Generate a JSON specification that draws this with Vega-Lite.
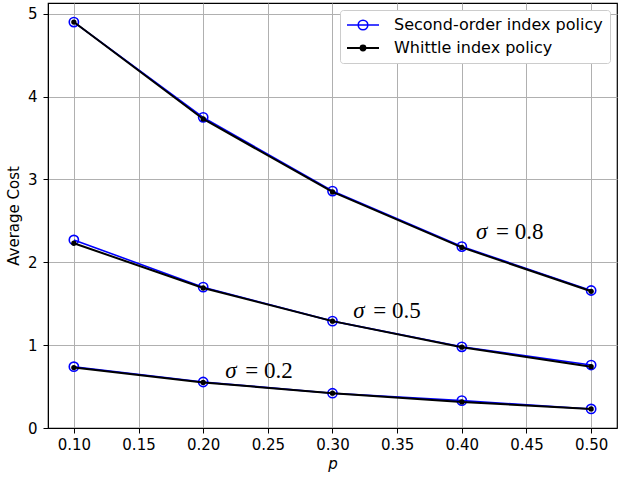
{
  "$schema": "https://vega.github.io/schema/vega-lite/v6.json",
  "width": 569,
  "height": 425,
  "autosize": {"type": "none"},
  "padding": {"left": 48, "top": 3, "right": 6, "bottom": 53},
  "background": "white",
  "config": {
    "view": {"stroke": "black", "strokeWidth": 1.2},
    "font": "DejaVu Sans",
    "axis": {
      "domainColor": "black",
      "tickColor": "black",
      "tickSize": 5,
      "gridColor": "#b0b0b0",
      "gridWidth": 1,
      "labelFont": "DejaVu Sans",
      "labelFontSize": 15,
      "labelColor": "black",
      "titleFont": "DejaVu Sans",
      "titleFontSize": 15,
      "titleFontWeight": "normal",
      "titleColor": "black"
    }
  },
  "datasets": {
    "series": [
      {"p": 0.1, "cost": 4.90, "sigma": "0.8", "policy": "Second-order index policy"},
      {"p": 0.2, "cost": 3.75, "sigma": "0.8", "policy": "Second-order index policy"},
      {"p": 0.3, "cost": 2.86, "sigma": "0.8", "policy": "Second-order index policy"},
      {"p": 0.4, "cost": 2.19, "sigma": "0.8", "policy": "Second-order index policy"},
      {"p": 0.5, "cost": 1.66, "sigma": "0.8", "policy": "Second-order index policy"},
      {"p": 0.1, "cost": 2.27, "sigma": "0.5", "policy": "Second-order index policy"},
      {"p": 0.2, "cost": 1.70, "sigma": "0.5", "policy": "Second-order index policy"},
      {"p": 0.3, "cost": 1.29, "sigma": "0.5", "policy": "Second-order index policy"},
      {"p": 0.4, "cost": 0.98, "sigma": "0.5", "policy": "Second-order index policy"},
      {"p": 0.5, "cost": 0.76, "sigma": "0.5", "policy": "Second-order index policy"},
      {"p": 0.1, "cost": 0.74, "sigma": "0.2", "policy": "Second-order index policy"},
      {"p": 0.2, "cost": 0.555, "sigma": "0.2", "policy": "Second-order index policy"},
      {"p": 0.3, "cost": 0.42, "sigma": "0.2", "policy": "Second-order index policy"},
      {"p": 0.4, "cost": 0.33, "sigma": "0.2", "policy": "Second-order index policy"},
      {"p": 0.5, "cost": 0.23, "sigma": "0.2", "policy": "Second-order index policy"},
      {"p": 0.1, "cost": 4.90, "sigma": "0.8", "policy": "Whittle index policy"},
      {"p": 0.2, "cost": 3.73, "sigma": "0.8", "policy": "Whittle index policy"},
      {"p": 0.3, "cost": 2.85, "sigma": "0.8", "policy": "Whittle index policy"},
      {"p": 0.4, "cost": 2.18, "sigma": "0.8", "policy": "Whittle index policy"},
      {"p": 0.5, "cost": 1.65, "sigma": "0.8", "policy": "Whittle index policy"},
      {"p": 0.1, "cost": 2.23, "sigma": "0.5", "policy": "Whittle index policy"},
      {"p": 0.2, "cost": 1.69, "sigma": "0.5", "policy": "Whittle index policy"},
      {"p": 0.3, "cost": 1.29, "sigma": "0.5", "policy": "Whittle index policy"},
      {"p": 0.4, "cost": 0.975, "sigma": "0.5", "policy": "Whittle index policy"},
      {"p": 0.5, "cost": 0.74, "sigma": "0.5", "policy": "Whittle index policy"},
      {"p": 0.1, "cost": 0.73, "sigma": "0.2", "policy": "Whittle index policy"},
      {"p": 0.2, "cost": 0.55, "sigma": "0.2", "policy": "Whittle index policy"},
      {"p": 0.3, "cost": 0.42, "sigma": "0.2", "policy": "Whittle index policy"},
      {"p": 0.4, "cost": 0.315, "sigma": "0.2", "policy": "Whittle index policy"},
      {"p": 0.5, "cost": 0.23, "sigma": "0.2", "policy": "Whittle index policy"}
    ],
    "labels": [
      {"p": 0.411, "cost": 2.36, "rest": "= 0.8"},
      {"p": 0.316, "cost": 1.41, "rest": "= 0.5"},
      {"p": 0.217, "cost": 0.69, "rest": "= 0.2"}
    ]
  },
  "encoding": {
    "x": {
      "field": "p", "type": "quantitative",
      "scale": {"domain": [0.08, 0.52], "nice": false, "zero": false},
      "axis": {"values": [0.1, 0.15, 0.2, 0.25, 0.3, 0.35, 0.4, 0.45, 0.5], "format": ".2f", "title": "p", "titleFontStyle": "italic", "labelPadding": 4, "titlePadding": 4}
    },
    "y": {
      "field": "cost", "type": "quantitative",
      "scale": {"domain": [0, 5.13], "nice": false},
      "axis": {"values": [0, 1, 2, 3, 4, 5], "title": "Average Cost", "labelPadding": 6, "titlePadding": 6}
    }
  },
  "layer": [
    {
      "data": {"name": "series"},
      "transform": [{"filter": "datum.policy === 'Second-order index policy'"}],
      "mark": {"type": "line", "strokeWidth": 1.6},
      "encoding": {
        "detail": {"field": "sigma"},
        "color": {
          "field": "policy", "type": "nominal",
          "scale": {"domain": ["Second-order index policy", "Whittle index policy"], "range": ["blue", "black"]},
          "legend": {
            "title": null,
            "orient": "top-right",
            "offset": 7,
            "padding": 7,
            "fillColor": "white",
            "strokeColor": "#cccccc",
            "cornerRadius": 3,
            "labelFont": "DejaVu Sans",
            "labelFontSize": 16,
            "labelColor": "black",
            "labelLimit": 400,
            "labelOffset": 31,
            "rowPadding": 7,
            "symbolSize": 256,
            "symbolStrokeWidth": 1.6,
            "encode": {
              "symbols": {
                "update": {
                  "shape": {"signal": "datum.value === 'Whittle index policy' ? 'M-1,0L3,0M1.3,0A0.3,0.3,0,1,1,0.7,0A0.3,0.3,0,1,1,1.3,0' : 'M-1,0L3,0M1.6,0A0.6,0.6,0,1,1,0.4,0A0.6,0.6,0,1,1,1.6,0'"},
                  "fill": {"signal": "datum.value === 'Whittle index policy' ? 'black' : 'white'"},
                  "fillOpacity": {"signal": "datum.value === 'Whittle index policy' ? 1 : 0"},
                  "stroke": {"signal": "datum.value === 'Whittle index policy' ? 'black' : 'blue'"},
                  "strokeWidth": {"signal": "datum.value === 'Whittle index policy' ? 2 : 1.6"},
                  "opacity": {"value": 1}
                }
              }
            }
          }
        }
      }
    },
    {
      "data": {"name": "series"},
      "transform": [{"filter": "datum.policy === 'Second-order index policy'"}],
      "mark": {"type": "point", "filled": false, "size": 85, "strokeWidth": 1.6, "opacity": 1},
      "encoding": {"color": {"field": "policy", "type": "nominal"}}
    },
    {
      "data": {"name": "series"},
      "transform": [{"filter": "datum.policy === 'Whittle index policy'"}],
      "mark": {"type": "line", "strokeWidth": 2},
      "encoding": {"detail": {"field": "sigma"}, "color": {"field": "policy", "type": "nominal"}}
    },
    {
      "data": {"name": "series"},
      "transform": [{"filter": "datum.policy === 'Whittle index policy'"}],
      "mark": {"type": "point", "filled": true, "size": 28, "opacity": 1},
      "encoding": {"color": {"field": "policy", "type": "nominal"}}
    },
    {
      "data": {"name": "labels"},
      "mark": {"type": "text", "text": "σ", "font": "Liberation Serif", "fontSize": 23, "fontStyle": "italic", "align": "left", "baseline": "middle", "color": "black"},
      "encoding": {}
    },
    {
      "data": {"name": "labels"},
      "mark": {"type": "text", "font": "Liberation Serif", "fontSize": 23, "align": "left", "baseline": "middle", "dx": 20, "color": "black"},
      "encoding": {"text": {"field": "rest"}}
    }
  ]
}
